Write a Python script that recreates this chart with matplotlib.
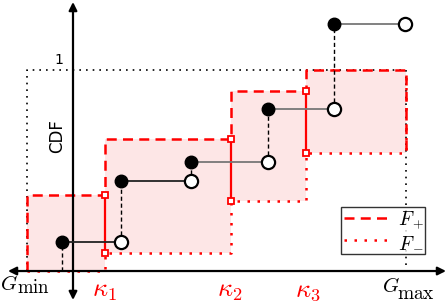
import matplotlib
matplotlib.use('Agg')
import matplotlib.pyplot as plt
from matplotlib.lines import Line2D

plt.rcParams['mathtext.fontset'] = 'cm'

# x positions (arbitrary units, vertical axis at 0)
g_min = -0.46
g_max = 3.33
kappa_x = [0.32, 1.58, 2.33]
kappa_labels = [r'$\kappa_1$', r'$\kappa_2$', r'$\kappa_3$']
kappa_label_x = [0.315, 1.565, 2.35]

# empirical CDF steps: filled point at left, open point at right
step_x = [-0.11, 0.48, 1.18, 1.95, 2.61, 3.32]
step_y = [0.144, 0.448, 0.542, 0.806, 1.229]
step_colors = ['#222222', '#222222', '#777777', '#777777', '#777777']

# bounds in each interval [G_min, k1, k2, k3, G_max]
edges = [g_min] + kappa_x + [g_max]
f_plus = [0.378, 0.657, 0.896, 1.0]
f_minus = [0.0, 0.09, 0.348, 0.587]

red = '#ff0000'

fig = plt.figure(figsize=(4.48, 3.06), dpi=100)
ax = fig.add_axes([0, 0, 1, 1])
ax.set_xlim(-0.73, 3.75)
ax.set_ylim(-0.174, 1.348)
ax.axis('off')

# shaded band between F- and F+
for i in range(4):
    ax.fill_between([edges[i], edges[i + 1]], f_minus[i], f_plus[i],
                    color='#fde6e6', lw=0, zorder=1)

# dotted box up to 1
ax.plot([g_min, g_min, g_max, g_max], [0, 1, 1, 0], color='black',
        ls=(0, (1, 3)), lw=1.2, zorder=2)

# F+ (dashed) and F- (dotted) staircases
xp, yp = [g_min], [0]
xm, ym = [g_min], [0]
for i in range(4):
    xp += [edges[i], edges[i + 1]]
    yp += [f_plus[i], f_plus[i]]
    xm += [edges[i], edges[i + 1]]
    ym += [f_minus[i], f_minus[i]]
xp += [g_max]
yp += [f_minus[-1]]
xm += [g_max]
ym += [f_plus[-1]]
ax.plot(xp, yp, color=red, ls=(0, (4, 2.5)), lw=1.8, zorder=3)
ax.plot(xm, ym, color=red, ls=(0, (1, 3)), lw=1.8, zorder=3)

# solid jumps at kappa
for i, k in enumerate(kappa_x):
    ax.plot([k, k], [f_minus[i + 1], f_plus[i]], color=red, lw=1.6,
            marker='s', ms=5, mfc='white', mec=red, mew=1.3, zorder=5)

# axes arrows
ax.annotate('', xy=(3.73, 0), xytext=(-0.65, 0),
            arrowprops=dict(arrowstyle='<|-|>', lw=1.6, color='black',
                            mutation_scale=12, shrinkA=0, shrinkB=0), zorder=4)
ax.annotate('', xy=(0, 1.338), xytext=(0, -0.144),
            arrowprops=dict(arrowstyle='<|-|>', lw=1.6, color='black',
                            mutation_scale=12, shrinkA=0, shrinkB=0), zorder=4)

# empirical CDF steps
prev = 0
for i in range(5):
    ax.plot([step_x[i], step_x[i]], [prev, step_y[i]], color='black',
            ls=(0, (3, 2)), lw=1.0, zorder=6)
    ax.plot([step_x[i], step_x[i + 1]], [step_y[i], step_y[i]],
            color=step_colors[i], lw=1.3, zorder=6)
    ax.plot(step_x[i + 1], step_y[i], 'o', ms=9.5, mfc='white',
            mec='black', mew=1.6, zorder=7)
    ax.plot(step_x[i], step_y[i], 'o', ms=9, color='black', zorder=7)
    prev = step_y[i]

# labels
ax.text(-0.14, 1.05, '1', fontsize=10, ha='center', va='center')
ax.text(-0.16, 0.672, 'CDF', fontsize=12, rotation=90, ha='center', va='center')

# G_min / G_max with a large roman subscript
ax.text(-0.73, -0.0945, r'$G$', fontsize=15, ha='left', va='baseline')
ax.text(-0.56, -0.109, r'$\mathrm{min}$', fontsize=13.5, ha='left', va='baseline')
ax.text(3.09, -0.104, r'$G$', fontsize=15, ha='left', va='baseline')
ax.text(3.24, -0.139, r'$\mathrm{max}$', fontsize=14, ha='left', va='baseline')

for kx, lab in zip(kappa_label_x, kappa_labels):
    ax.text(kx, -0.129, lab, fontsize=19, color=red, ha='center', va='baseline')

handles = [Line2D([], [], color=red, ls=(0, (4, 2.5)), lw=1.8),
           Line2D([], [], color=red, ls=(0, (1, 3)), lw=1.8)]
leg = ax.legend(handles, [r'$F_+$', r'$F_-$'], loc='lower left',
                bbox_to_anchor=(0.761, 0.170, 0.188, 0.176), mode='expand',
                fontsize=14, frameon=True, fancybox=False, handlelength=2.2,
                borderpad=0.15, labelspacing=0.05, handletextpad=0.6,
                borderaxespad=0)
leg.get_frame().set_edgecolor('black')
leg.get_frame().set_linewidth(1.0)
leg.set_zorder(8)

fig.savefig('out.png', dpi=100)
